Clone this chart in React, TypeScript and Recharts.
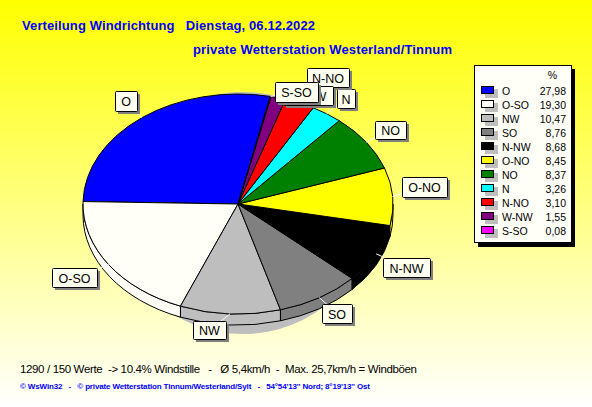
import React from "react";
import { PieChart, Pie, Legend, Customized } from "recharts";

const directions = ["O", "O-SO", "NW", "SO", "N-NW", "O-NO", "NO", "N", "N-NO", "W-NW", "S-SO"];
const percents = [27.98, 19.3, 10.47, 8.76, 8.68, 8.45, 8.37, 3.26, 3.1, 1.55, 0.08];
const colors = ["#0000ff", "#fffff8", "#bebebe", "#808080", "#000000", "#ffff00", "#008000", "#00ffff", "#ff0000", "#800080", "#ff00ff"];

const tableData = directions.map((name, i) => ({ name, value: percents[i], fill: colors[i] }));

const WIDTH = 592;
const HEIGHT = 407;
const CX = 238;
const CY = 204;
const RX = 155;
const RY = 110;
const DEPTH = 11;

// callout boxes, left/top/width/height
const labelBoxes: Record<string, number[]> = {
  O: [115, 91, 22, 20],
  "O-SO": [52, 268, 45, 19],
  NW: [193, 321, 33, 18],
  SO: [322, 304, 30, 19],
  "N-NW": [383, 258, 47, 19],
  "O-NO": [402, 177, 45, 20],
  NO: [375, 121, 31, 18],
  N: [337, 89, 18, 19],
  "N-NO": [307, 68, 42, 19],
  "W-NW": [283, 86, 50, 19],
  "S-SO": [275, 82, 43, 20],
};

const rad = (deg: number) => (deg * Math.PI) / 180;
const px = (deg: number) => CX + RX * Math.cos(rad(deg));
const py = (deg: number) => CY - RY * Math.sin(rad(deg));

function EllipseSector(props: any) {
  const { startAngle, endAngle, fill } = props;
  const a0 = Math.min(startAngle, endAngle);
  const a1 = Math.max(startAngle, endAngle);
  const large = a1 - a0 > 180 ? 1 : 0;
  const top = `M${CX},${CY} L${px(a0)},${py(a0)} A${RX},${RY} 0 ${large} 0 ${px(a1)},${py(a1)} Z`;
  const w0 = Math.max(a0, 180);
  const w1 = Math.min(a1, 360);
  let wall = null;
  if (w1 > w0) {
    const d =
      `M${px(w0)},${py(w0)} A${RX},${RY} 0 0 0 ${px(w1)},${py(w1)} ` +
      `L${px(w1)},${py(w1) + DEPTH} A${RX},${RY} 0 0 1 ${px(w0)},${py(w0) + DEPTH} Z`;
    wall = <path d={d} fill={fill} stroke="#000" strokeWidth={1} />;
  }
  return (
    <g>
      {wall}
      <path d={top} fill={fill} stroke="#000" strokeWidth={1} />
    </g>
  );
}

function Callout(props: any) {
  const { name, midAngle } = props;
  const [x, y, w, h] = labelBoxes[name];
  return (
    <g>
      <line x1={px(midAngle)} y1={py(midAngle)} x2={x + w / 2} y2={y + h / 2} stroke="#fff" />
      <rect x={x + 3} y={y + 3} width={w} height={h} fill="#808080" />
      <rect x={x + 0.5} y={y + 0.5} width={w} height={h} rx={1} fill="#fffff0" stroke="#000" />
      <text x={x + w / 2} y={y + h / 2 + 5} textAnchor="middle" fontSize={12.5} fill="#000" fontFamily="Liberation Sans">
        {name}
      </text>
    </g>
  );
}

function LegendBox() {
  return (
    <svg width={104} height={184} style={{ display: "block", fontFamily: "Liberation Sans", fontSize: 10.5 }}>
      <rect x={4} y={4} width={97} height={178} fill="#000" />
      <rect x={0.5} y={0.5} width={97} height={177} fill="#fffff8" stroke="#000" />
      <text x={83} y={14} textAnchor="end">%</text>
      {directions.map((name, i) => (
        <g key={name}>
          <rect x={11} y={24 + i * 14} width={13} height={9} fill="#bebebe" />
          <rect x={7.5} y={21.5 + i * 14} width={12} height={7} fill={colors[i]} stroke="#000" />
          <text x={28} y={30 + i * 14}>{name}</text>
          <text x={92} y={30 + i * 14} textAnchor="end">{percents[i].toFixed(2).replace(".", ",")}</text>
        </g>
      ))}
    </svg>
  );
}

const PieShadow = () => <ellipse cx={243} cy={213} rx={128} ry={121} fill="#bebebe" />;

export default function App() {
  return (
    <div style={{ position: "absolute", left: 0, top: 0, width: WIDTH, height: HEIGHT, background: "linear-gradient(#ffff00, #ffffff)" }}>
      <PieChart width={WIDTH} height={HEIGHT} margin={{ top: 0, right: 0, bottom: 0, left: 0 }}>
        <text x={22} y={30} fontFamily="Liberation Sans" fontWeight="bold" fontSize={13} fill="#0000ff" textLength={293} xmlSpace="preserve">
          {"Verteilung Windrichtung   Dienstag, 06.12.2022"}
        </text>
        <text x={193} y={54} fontFamily="Liberation Sans" fontWeight="bold" fontSize={13} fill="#0000ff" textLength={259}>
          private Wetterstation Westerland/Tinnum
        </text>
        <Customized component={PieShadow} />
        <Pie
          data={tableData}
          dataKey="value"
          nameKey="name"
          cx={CX}
          cy={CY}
          outerRadius={RX}
          startAngle={78}
          endAngle={438}
          paddingAngle={0}
          shape={EllipseSector}
          label={Callout}
          labelLine={false}
          isAnimationActive={false}
        />
        <Legend content={<LegendBox />} wrapperStyle={{ position: "absolute", left: 474, top: 65, width: 104, height: 184 }} />
        <text x={20} y={373} fontFamily="Liberation Sans" fontSize={11.5} fill="#000" textLength={397} xmlSpace="preserve">
          {"1290 / 150 Werte  -> 10.4% Windstille   -   Ø 5,4km/h  -  Max. 25,7km/h = Windböen"}
        </text>
        <text x={20} y={389} fontFamily="Liberation Sans" fontWeight="bold" fontSize={8} fill="#0000ff" textLength={350} xmlSpace="preserve">
          {"© WsWin32   -   © private Wetterstation Tinnum/Westerland/Sylt   -   54°54'13'' Nord; 8°19'13'' Ost"}
        </text>
      </PieChart>
    </div>
  );
}
